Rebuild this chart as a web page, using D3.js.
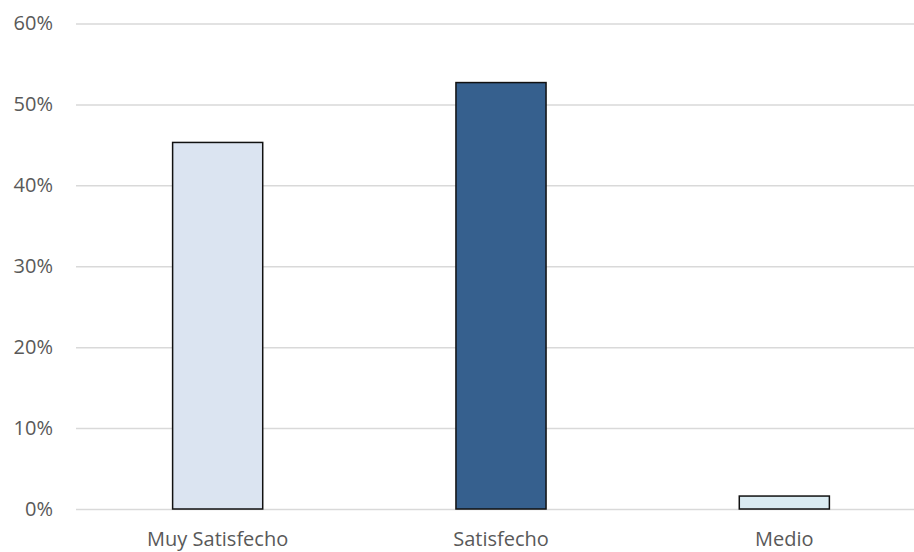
<!DOCTYPE html>
<html>
<head>
<meta charset="utf-8">
<script src="https://cdn.jsdelivr.net/npm/d3@7"></script>
<style>
  html, body { margin: 0; padding: 0; background: #fff; }
  svg { display: block; }
  text { font-family: "Open Sans", sans-serif; fill: #595959; }
</style>
</head>
<body>
<script>
// Satisfaction survey results
const categories = ["Muy Satisfecho", "Satisfecho", "Medio"];
const values = [0.453, 0.527, 0.016];
const barColors = ["#dbe4f1", "#36608e", "#daebf2"];
const yTicks = [0, 0.1, 0.2, 0.3, 0.4, 0.5, 0.6];

const width = 914, height = 552;
const plot = { left: 76, right: 926, top: 23.5, bottom: 509 };

const svg = d3.select("body").append("svg")
  .attr("width", width).attr("height", height);

const x = d3.scaleBand()
  .domain(categories)
  .range([plot.left, plot.right])
  .paddingInner(0.682)
  .paddingOuter(0.341);

const y = d3.scaleLinear()
  .domain([0, 0.6])
  .range([plot.bottom, plot.top]);

// horizontal gridlines + percentage labels
const yAxis = d3.axisLeft(y)
  .tickValues(yTicks)
  .tickFormat(d3.format(".0%"))
  .tickSize(-(plot.right - plot.left))
  .tickPadding(23);

const gy = svg.append("g")
  .attr("transform", `translate(${plot.left},0)`)
  .call(yAxis);
gy.select(".domain").remove();
gy.selectAll(".tick line").attr("stroke", "#d9d9d9").attr("stroke-width", 1.5);
gy.selectAll(".tick text")
  .style("font-size", "20px")
  .attr("fill", "#595959");

// bars
svg.append("g").selectAll("rect")
  .data(categories)
  .join("rect")
  .attr("x", d => x(d))
  .attr("width", x.bandwidth())
  .attr("y", (d, i) => y(values[i]))
  .attr("height", (d, i) => y(0) - y(values[i]))
  .attr("fill", (d, i) => barColors[i])
  .attr("stroke", "#111")
  .attr("stroke-width", 1.5);

// category axis labels
const xAxis = d3.axisBottom(x).tickSize(0);
const gx = svg.append("g")
  .attr("transform", `translate(0,${plot.bottom})`)
  .call(xAxis);
gx.select(".domain").remove();
gx.selectAll(".tick text")
  .attr("y", 37)
  .attr("dy", 0)
  .style("font-size", "20px")
  .attr("fill", "#595959");
</script>
</body>
</html>
